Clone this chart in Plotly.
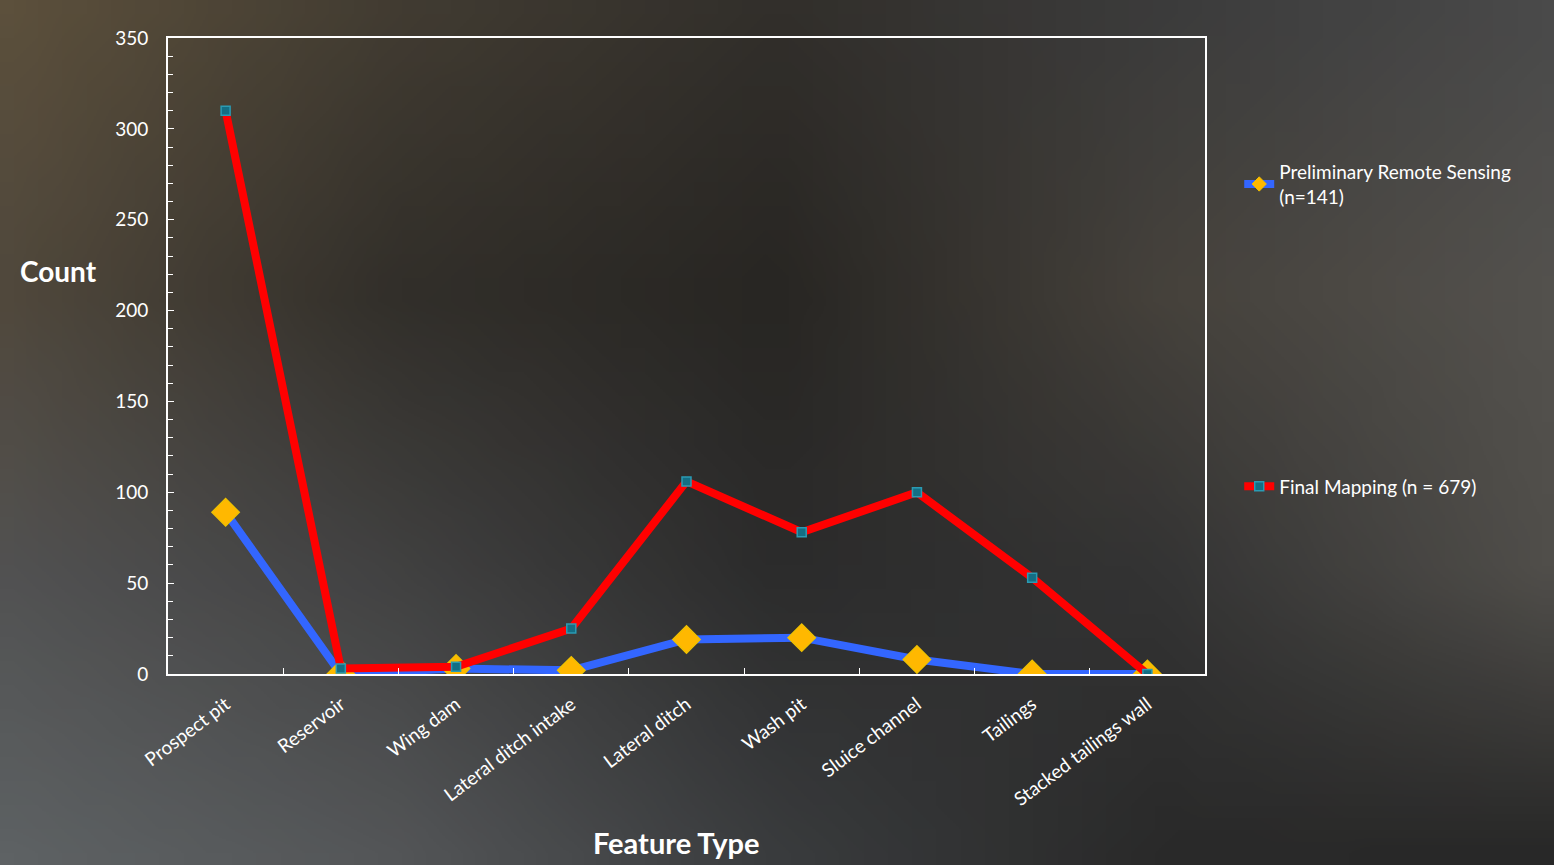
import base64, struct, zlib
import numpy as np
import plotly.graph_objects as go

categories = ["Prospect pit", "Reservoir", "Wing dam", "Lateral ditch intake", "Lateral ditch",
              "Wash pit", "Sluice channel", "Tailings", "Stacked tailings wall"]
prelim = [89, 0, 3, 2, 19, 20, 8, 0, 0]
final = [310, 3, 4, 25, 106, 78, 100, 53, 0]
prelim_name = "Preliminary Remote Sensing<br>(n=141)"
final_name = "Final Mapping (n = 679)"

# ---- background approximating the dark photographic texture ----
ctrl = np.array([
    [[92, 80, 60], [66, 60, 50], [50, 47, 43], [60, 60, 60], [74, 74, 74]],
    [[80, 72, 60], [50, 47, 42], [40, 38, 35], [70, 66, 60], [84, 82, 78]],
    [[82, 82, 82], [66, 66, 66], [44, 44, 44], [52, 52, 52], [80, 78, 74]],
    [[94, 98, 100], [84, 86, 88], [58, 60, 62], [42, 42, 42], [40, 40, 40]],
], dtype=float)
W, H = 64, 36
ys = np.linspace(0, ctrl.shape[0] - 1, H)
xs = np.linspace(0, ctrl.shape[1] - 1, W)
img = np.zeros((H, W, 3))
for i, yv in enumerate(ys):
    y0 = min(int(yv), ctrl.shape[0] - 2); fy = yv - y0
    for j, xv in enumerate(xs):
        x0 = min(int(xv), ctrl.shape[1] - 2); fx = xv - x0
        c = (ctrl[y0, x0] * (1 - fx) * (1 - fy) + ctrl[y0, x0 + 1] * fx * (1 - fy)
             + ctrl[y0 + 1, x0] * (1 - fx) * fy + ctrl[y0 + 1, x0 + 1] * fx * fy)
        img[i, j] = c
img = np.clip(img, 0, 255).astype(np.uint8)

def png_bytes(a):
    h, w, _ = a.shape
    raw = b"".join(b"\x00" + a[r].tobytes() for r in range(h))
    def chunk(t, d):
        return struct.pack(">I", len(d)) + t + d + struct.pack(">I", zlib.crc32(t + d) & 0xffffffff)
    return (b"\x89PNG\r\n\x1a\n" + chunk(b"IHDR", struct.pack(">IIBBBBB", w, h, 8, 2, 0, 0, 0))
            + chunk(b"IDAT", zlib.compress(raw, 9)) + chunk(b"IEND", b""))

bg_uri = "data:image/png;base64," + base64.b64encode(png_bytes(img)).decode()

FONT = "Lato"
BLUE, RED = "#3366FF", "#FF0000"
GOLD, GOLD_EDGE = "#FFB800", "#F0C000"
TEAL, TEAL_EDGE = "#146E84", "#2A9BB3"

fig = go.Figure()
fig.add_trace(go.Scatter(
    x=categories, y=prelim, name=prelim_name, mode="lines+markers",
    line=dict(color=BLUE, width=8),
    marker=dict(symbol="diamond", size=21, color=GOLD, line=dict(color=GOLD_EDGE, width=1.5)),
    showlegend=False,
))
fig.add_trace(go.Scatter(
    x=categories, y=final, name=final_name, mode="lines+markers",
    line=dict(color=RED, width=8),
    marker=dict(symbol="square", size=9, color=TEAL, line=dict(color=TEAL_EDGE, width=1.5)),
    showlegend=False,
))
# legend-only entries (smaller markers, thick lines, as in the reference legend)
fig.add_trace(go.Scatter(
    x=[None], y=[None], name=prelim_name, mode="lines+markers",
    line=dict(color=BLUE, width=8),
    marker=dict(symbol="diamond", size=11, color=GOLD, line=dict(color=GOLD_EDGE, width=1)),
    legend="legend", showlegend=True,
))
fig.add_trace(go.Scatter(
    x=[None], y=[None], name=final_name, mode="lines+markers",
    line=dict(color=RED, width=8),
    marker=dict(symbol="square", size=9, color=TEAL, line=dict(color=TEAL_EDGE, width=1.5)),
    legend="legend2", showlegend=True,
))

fig.update_layout(
    width=1554, height=865,
    margin=dict(l=168, r=349, t=38, b=191),
    paper_bgcolor="#3a3836",
    plot_bgcolor="rgba(0,0,0,0)",
    showlegend=True,
    font=dict(family=FONT, color="white", size=19),
    images=[dict(source=bg_uri, xref="paper", yref="paper", x=-168/1037, y=1 + 38/636,
                 sizex=1554/1037, sizey=865/636, sizing="stretch", layer="below",
                 xanchor="left", yanchor="top")],
    xaxis=dict(
        type="category", range=[-0.5, 8.5], showgrid=False, zeroline=False,
        showline=True, linecolor="white", linewidth=2, mirror=True,
        ticks="inside", ticklen=6, tickcolor="white", tickson="boundaries",
        tickangle=-37, ticklabelstandoff=10,
        tickfont=dict(family=FONT, size=19, color="white"),
    ),
    yaxis=dict(
        range=[0, 350], dtick=50, showgrid=False, zeroline=False,
        showline=True, linecolor="white", linewidth=2, mirror=True,
        ticks="inside", ticklen=6, tickcolor="white", ticklabelstandoff=14,
        tickfont=dict(family=FONT, size=19, color="white"),
        minor=dict(dtick=10, ticks="inside", ticklen=5, tickcolor="white", showgrid=False),
    ),
    legend=dict(x=1.033, y=0.77, xanchor="left", yanchor="middle", bgcolor="rgba(0,0,0,0)",
                font=dict(family=FONT, size=19, color="white")),
    legend2=dict(x=1.033, y=0.295, xanchor="left", yanchor="middle", bgcolor="rgba(0,0,0,0)",
                 font=dict(family=FONT, size=19, color="white")),
    annotations=[
        dict(text="<b>Count</b>", xref="paper", yref="paper", x=-150/1037, y=(674-271)/636,
             xanchor="left", yanchor="middle", showarrow=False,
             font=dict(family=FONT, size=28, color="white")),
        dict(text="<b>Feature Type</b>", xref="paper", yref="paper", x=(676-168)/1037, y=-(843-674)/636,
             xanchor="center", yanchor="middle", showarrow=False,
             font=dict(family=FONT, size=29, color="white")),
    ],
)

fig.write_html("out.html")
